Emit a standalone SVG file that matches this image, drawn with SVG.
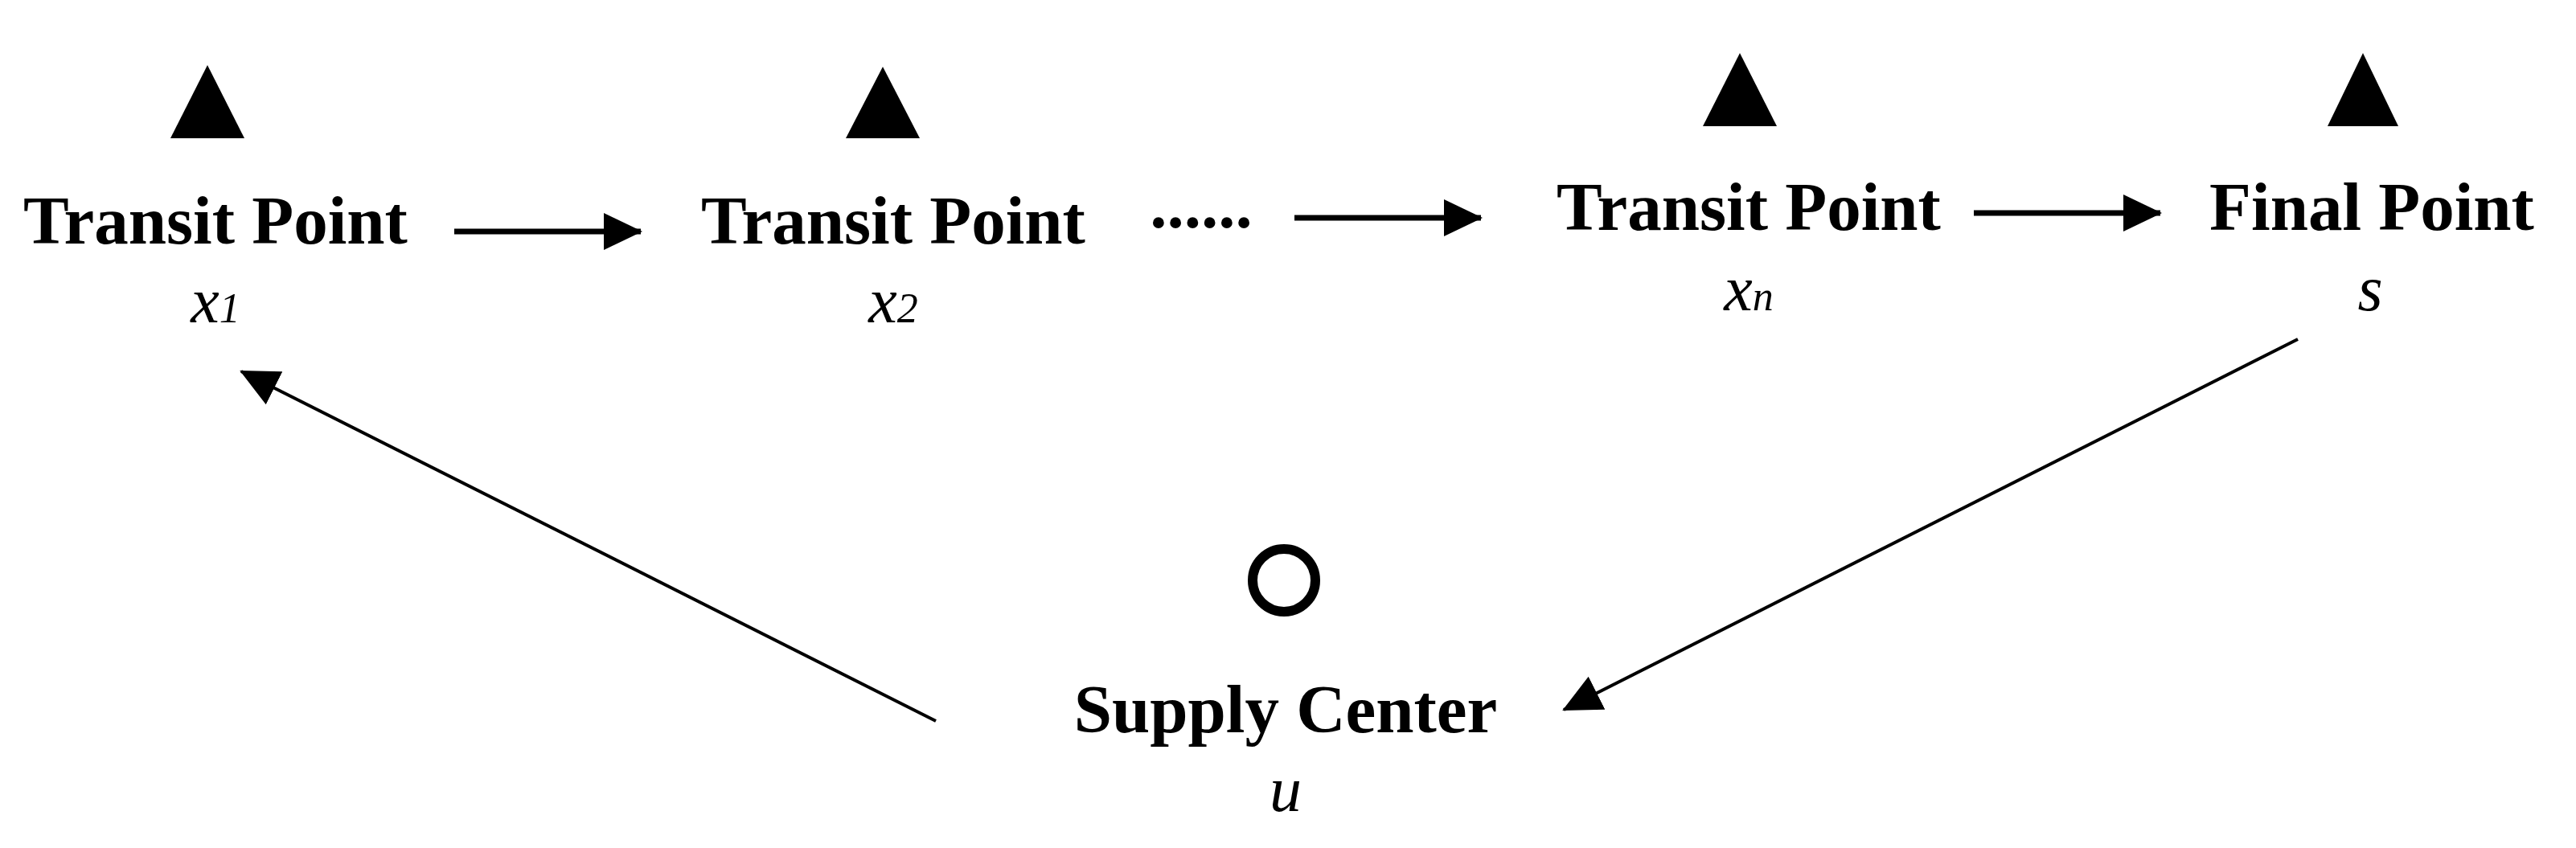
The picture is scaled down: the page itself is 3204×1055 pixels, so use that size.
<svg xmlns="http://www.w3.org/2000/svg" width="3204" height="1055" viewBox="0 0 3204 1055">
<defs>
<marker id="ah" markerWidth="48" markerHeight="46" refX="46" refY="23" orient="auto" markerUnits="userSpaceOnUse"><path d="M0,0 L48,23 L0,46 Z" fill="#000"/></marker>
</defs>
<style>
.lbl{font-family:"Liberation Serif",serif;font-weight:bold;font-size:85px;fill:#000;text-anchor:middle}
.var{font-family:"Liberation Serif",serif;font-style:italic;font-size:80px;fill:#000;text-anchor:middle}
.sub{font-size:52px}
.tri{fill:#000}
.conn{stroke:#000;fill:none}
</style>
<rect width="3204" height="1055" fill="#fff"/>
<g id="x1">
<polygon class="tri" points="258,81 212,172 304,172"/>
<text class="lbl" x="268" y="303">Transit Point</text>
<text class="var" x="268" y="401">x<tspan class="sub">1</tspan></text>
</g>
<g id="x2">
<polygon class="tri" points="1098,83 1052,172 1144,172"/>
<text class="lbl" x="1111" y="303">Transit Point</text>
<text class="var" x="1111" y="401">x<tspan class="sub">2</tspan></text>
</g>
<g id="dots"><text class="lbl" x="1494" y="283">......</text></g>
<g id="xn">
<polygon class="tri" points="2164,66 2118,157 2210,157"/>
<text class="lbl" x="2175" y="286">Transit Point</text>
<text class="var" x="2175" y="386">x<tspan class="sub">n</tspan></text>
</g>
<g id="s">
<polygon class="tri" points="2939,66 2895,157 2983,157"/>
<text class="lbl" x="2950" y="286">Final Point</text>
<text class="var" x="2948" y="386">s</text>
</g>
<g id="u">
<circle cx="1597" cy="722" r="39" fill="none" stroke="#000" stroke-width="12"/>
<text class="lbl" x="1599" y="911">Supply Center</text>
<text class="var" x="1599" y="1009">u</text>
</g>
<g id="connectors">
<line class="conn" stroke-width="7" x1="565" y1="288" x2="797" y2="288" marker-end="url(#ah)"/>
<line class="conn" stroke-width="7" x1="1610" y1="271" x2="1842" y2="271" marker-end="url(#ah)"/>
<line class="conn" stroke-width="7" x1="2455" y1="265" x2="2687" y2="265" marker-end="url(#ah)"/>
<line class="conn" stroke-width="4" x1="2858" y1="422" x2="1945" y2="883" marker-end="url(#ah)"/>
<line class="conn" stroke-width="4" x1="1164" y1="897" x2="300" y2="462" marker-end="url(#ah)"/>
</g>
</svg>
